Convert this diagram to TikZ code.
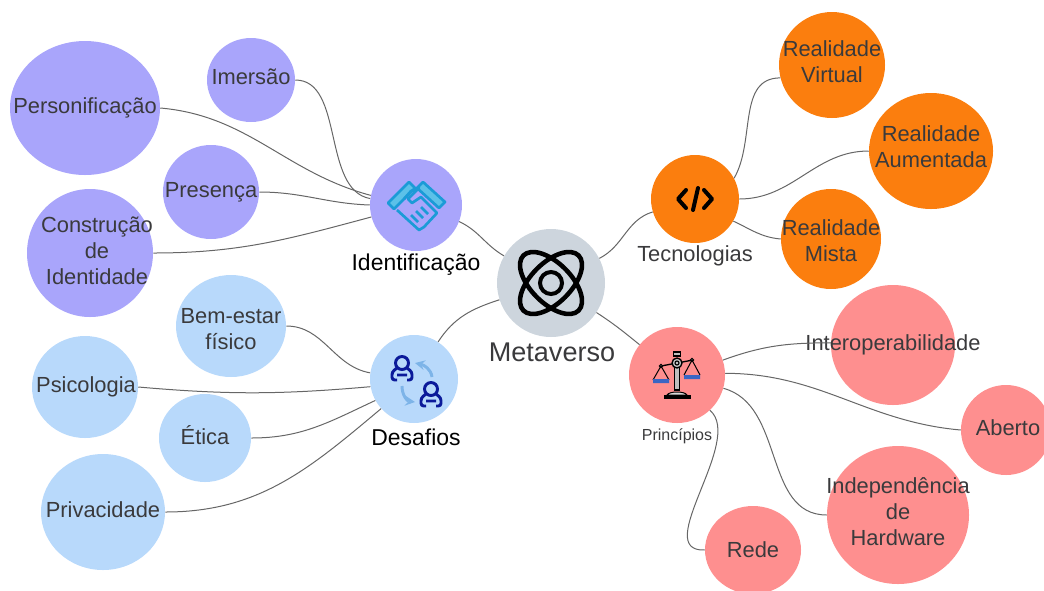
\documentclass[tikz,border=0pt]{standalone}
\usepackage{fontspec}
\setmainfont{Liberation Sans}
\usetikzlibrary{shapes.geometric, positioning}
\definecolor{purpleleaf}{HTML}{A9A5FB}
\definecolor{blueleaf}{HTML}{B8D9FB}
\definecolor{orangeleaf}{HTML}{FB7E0E}
\definecolor{redleaf}{HTML}{FE8F8F}
\definecolor{greyhub}{HTML}{CDD5DD}
\definecolor{darktext}{HTML}{3A3A3C}
\definecolor{shakeblue}{HTML}{1B9BD7}
\definecolor{cuffblue}{HTML}{5CC1E8}
\definecolor{peopleblue}{HTML}{0B1A9A}
\definecolor{swapblue}{HTML}{7DB4E8}
\definecolor{panblue}{HTML}{3A66C4}
\tikzset{
  hubblock/.style={
    circle,
    inner sep = 0pt,
    minimum size = #1*0.75pt,
  },
  leafblock/.style n args={4}{
    ellipse,
    inner sep = 0pt,
    minimum width = #1*0.75pt,
    minimum height = #2*0.75pt,
    label={[leaftext, shift={(#4)}]center:#3},
  },
  leaftext/.style={
    align = center,
    inner sep = 0pt,
    text = darktext,
    font = \fontsize{16.4}{19.5}\selectfont,
  },
  hubtext/.style={
    inner sep = 0pt,
    font = \fontsize{16.4}{19.5}\selectfont,
  },
  link/.style={
    line width = 0.75pt,
    draw = black!60,
  },
  atomicon/.pic={
    \draw [line width = 3.4pt, rotate = 45] (0,0) ellipse (39 and 20);
    \draw [line width = 3.4pt, rotate = -45] (0,0) ellipse (39 and 20);
    \draw [line width = 3pt] (0,0) circle (11);
  },
  shakeicon/.pic={
    \draw [line width = 2pt, draw = shakeblue, fill = cuffblue, line join = round]
      (-28,-2) -- (-7,-23) -- (-1,-17) -- (-22,4) -- cycle;
    \draw [line width = 2pt, draw = shakeblue, fill = cuffblue, line join = round]
      (7,-23) -- (29,-3) -- (23,3) -- (1,-17) -- cycle;
    \draw [line width = 2pt, draw = shakeblue, line join = round]
      (-19,5) -- (3,25) -- (8,22) -- (21,8) -- (5,-8) -- (-4,-2) -- (-8,-6) -- (3,-17) -- (-5,-14) -- (-12,-6);
    \draw [line width = 2pt, draw = shakeblue]
      (-5,10) -- (2,17) (0,6) -- (7,13) (5,2) -- (12,9);
  },
  codeicon/.pic={
    \draw [line width = 3pt, line cap = round, line join = round]
      (-9,-9) -- (-17,0) -- (-9,9)
      (3,-11) -- (-2,11)
      (9,-9) -- (17,0) -- (9,9);
  },
  peopleicon/.pic={
    \draw [line width = 2.2pt, draw = peopleblue, rounded corners = 2pt]
      (-12,-16) circle (6.5)
      (-17,-11) -- (-22,-7) -- (-22,1) -- (-17,1)
      (-7,-11) -- (-2,-7) -- (-2,1) -- (-7,1)
      (-17,-4) -- (-7,-4);
    \draw [line width = 2.2pt, draw = peopleblue, rounded corners = 2pt]
      (17,10) circle (6.5)
      (12,15) -- (7,19) -- (7,27) -- (12,27)
      (22,15) -- (27,19) -- (27,27) -- (22,27)
      (12,22) -- (22,22);
    \draw [line width = 2.2pt, draw = swapblue, -stealth]
      (18,-2) .. controls (17,-10) and (10,-14) .. (1,-16);
    \draw [line width = 2.2pt, draw = swapblue, -stealth]
      (-12,7) .. controls (-12,16) and (-7,22) .. (1,23);
  },
  scaleicon/.pic={
    \draw [line width = 1pt, fill = black!25] (-2.5,-15) rectangle (2.5,15);
    \draw [line width = 1pt, fill = black!25] (-3.5,-23) rectangle (3.5,-19);
    \draw [line width = 1pt] (-16,-9) -- (16,-15);
    \draw [line width = 1pt, fill = black!25] (0,-12) circle (5);
    \draw [line width = 0.8pt] (0,-12) circle (2);
    \draw [line width = 0.8pt, fill = white] (-16,-9) circle (1.6) (15,-15) circle (1.6);
    \draw [line width = 0.75pt] (-24,5) -- (-16,-9) -- (-8,5) (7,0) -- (15,-15) -- (23,0);
    \fill [panblue] (-24,4) rectangle (-8,8) (7,0) rectangle (23,4);
    \draw [line width = 0.75pt, fill = black!15] (-10,20) .. controls (-8,16) and (8,16) .. (10,20) -- cycle;
    \fill (-13,20) rectangle (14,24);
  },
}

\begin{document}
\begin{tikzpicture}[x=0.75pt, y=-0.75pt]
    \useasboundingbox (0,0) rectangle (1044,590);
    \clip (0,0) rectangle (1044,590);

    % hubs
    \node (metaverso) [hubblock=108, fill=greyhub] at (551,283) {};
    \node (identificacao) [hubblock=92, fill=purpleleaf] at (416,205) {};
    \node (tecnologias) [hubblock=88, fill=orangeleaf] at (695,199) {};
    \node (desafios) [hubblock=88, fill=blueleaf] at (414,379) {};
    \node (principios) [hubblock=96, fill=redleaf] at (677,375) {};

    \node (metaversotext) [hubtext, text=darktext, font=\fontsize{20.3}{24}\selectfont, xshift=0.75pt, below = 3.75pt of metaverso] {Metaverso};
    \node (identificacaotext) [hubtext, font=\fontsize{17.2}{20}\selectfont, below = 1.5pt of identificacao] {Identificação};
    \node (tecnologiastext) [hubtext, text=darktext, below = 1.75pt of tecnologias] {Tecnologias};
    \node (desafiostext) [hubtext, font=\fontsize{17.2}{20}\selectfont, xshift=1.5pt, below = 4pt of desafios] {Desafios};
    \node (principiostext) [hubtext, text=darktext, font=\fontsize{12}{14}\selectfont, below = 4pt of principios] {Princípios};

    % leaves
    \node (imersao) [leafblock={88}{84}{Imersão}{0,-3}, fill=purpleleaf] at (251,80) {};
    \node (personificacao) [leafblock={150}{134}{Personificação}{0,0}, fill=purpleleaf] at (85,108) {};
    \node (presenca) [leafblock={96}{94}{Presença}{0,0}, fill=purpleleaf] at (211,192) {};
    \node (construcao) [leafblock={126}{128}{Construção\\de\\Identidade}{7,-2}, fill=purpleleaf] at (90,253) {};

    \node (bemestar) [leafblock={110}{102}{Bem-estar\\físico}{0,3}, fill=blueleaf] at (231,326) {};
    \node (psicologia) [leafblock={106}{102}{Psicologia}{1,0}, fill=blueleaf] at (85,387) {};
    \node (etica) [leafblock={92}{88}{Ética}{0,-3}, fill=blueleaf] at (205,438) {};
    \node (privacidade) [leafblock={124}{116}{Privacidade}{0,-2}, fill=blueleaf] at (103,512) {};

    \node (virtual) [leafblock={106}{106}{Realidade\\Virtual}{0,-3}, fill=orangeleaf] at (832,65) {};
    \node (aumentada) [leafblock={124}{116}{Realidade\\Aumentada}{0,-4}, fill=orangeleaf] at (931,151) {};
    \node (mista) [leafblock={100}{100}{Realidade\\Mista}{0,2}, fill=orangeleaf] at (831,239) {};

    \node (interoperabilidade) [leafblock={124}{120}{Interoperabilidade}{0,0}, fill=redleaf] at (893,345) {};
    \node (aberto) [leafblock={90}{90}{Aberto}{2,-2}, fill=redleaf] at (1006,430) {};
    \node (hardware) [leafblock={142}{138}{Independência\\de\\Hardware}{0,-3}, fill=redleaf] at (898,515) {};
    \node (rede) [leafblock={96}{88}{Rede}{0,0}, fill=redleaf] at (753,550) {};

    % icons
    \pic at (metaverso) {atomicon};
    \pic at (identificacao) {shakeicon};
    \pic at (tecnologias) {codeicon};
    \pic at (desafios) {peopleicon};
    \pic at (principios) {scaleicon};

    % connectors
    \draw [link] (metaverso.150) to [out=150, in=-25] (identificacao.-21);
    \draw [link] (metaverso.27) to [out=27, in=197] (tecnologias.197);
    \draw [link] (metaverso.198) to [out=198, in=57] (desafios.57);
    \draw [link] (metaverso.-33) to [out=-33, in=141] (principios.141);

    \draw [link] (imersao.east) to [out=0, in=170, looseness=0.9] (identificacao.172);
    \draw [link] (personificacao.east) to [out=-5, in=165] (identificacao.168);
    \draw [link] (presenca.east) to [out=0, in=178] (identificacao.180);
    \draw [link] (construcao.east) to [out=0, in=195] (identificacao.195);

    \draw [link] (bemestar.east) to [out=0, in=170] (desafios.172);
    \draw [link] (psicologia.east) to [out=-5, in=185] (desafios.190);
    \draw [link] (etica.east) to [out=0, in=205] (desafios.209);
    \draw [link] (privacidade.east) to [out=0, in=220] (desafios.222);

    \draw [link] (tecnologias.28) to [out=60, in=180] (virtual.194);
    \draw [link] (tecnologias.east) to [out=0, in=180] (aumentada.west);
    \draw [link] (tecnologias.-30) to [out=-25, in=175] (mista.west);

    \draw [link] (principios.18) to [out=20, in=180] (interoperabilidade.178);
    \draw [link] (principios.2) to [out=0, in=175] (aberto.west);
    \draw [link] (principios.-16) to [out=-15, in=180] (hardware.west);
    \draw [link] (principios.-47) .. controls (745,440) and (650,552) .. (rede.west);
  \end{tikzpicture}
\end{document}
